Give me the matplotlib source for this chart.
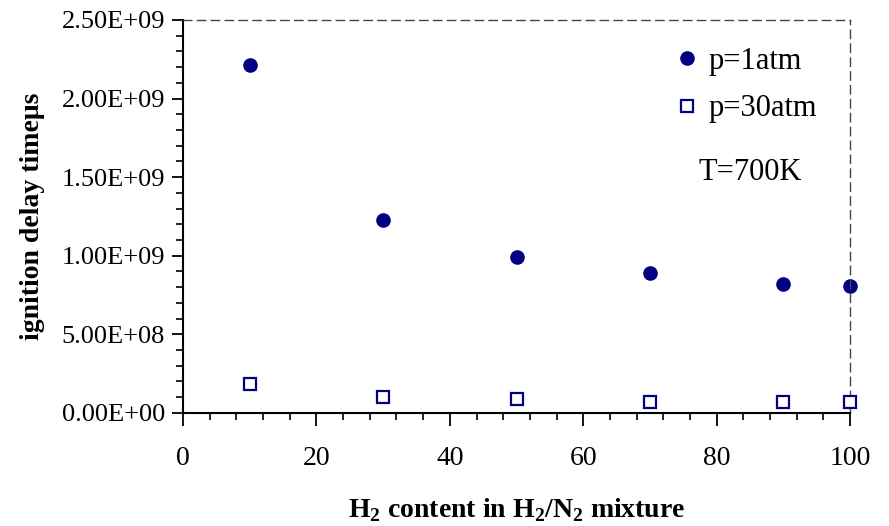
import matplotlib
matplotlib.use("Agg")
import matplotlib.pyplot as plt
from matplotlib.ticker import MultipleLocator, FuncFormatter

plt.rcParams['font.family'] = ['Liberation Serif', 'DejaVu Serif']
plt.rcParams['mathtext.fontset'] = 'custom'
plt.rcParams['mathtext.rm'] = 'Liberation Serif'
plt.rcParams['mathtext.bf'] = 'Liberation Serif:bold'

# H2 content (%) and ignition delay times
h2_content = [10, 30, 50, 70, 90, 100]
delay_1atm = [2.215e9, 1.225e9, 0.99e9, 0.89e9, 0.82e9, 0.805e9]
delay_30atm = [0.185e9, 0.1e9, 0.088e9, 0.07e9, 0.07e9, 0.07e9]

navy = '#000080'

fig = plt.figure(figsize=(8.89, 5.26), dpi=100)
ax = fig.add_axes([0.206, 0.215, 0.750, 0.747])

ax.plot(h2_content, delay_1atm, 'o', color=navy, markersize=9.5, label='p=1atm', clip_on=False)
ax.plot(h2_content, delay_30atm, 's', markerfacecolor='white', markeredgecolor=navy,
        markeredgewidth=1.6, markersize=8, label='p=30atm', clip_on=False, zorder=3)

ax.set_xlim(0, 100)
ax.set_ylim(0, 2.5e9)
ax.xaxis.set_major_locator(MultipleLocator(20))
ax.xaxis.set_minor_locator(MultipleLocator(4))
ax.yaxis.set_major_locator(MultipleLocator(5e8))
ax.yaxis.set_minor_locator(MultipleLocator(1e8))

def sci(v, pos):
    return '%.2E' % v

ax.yaxis.set_major_formatter(FuncFormatter(sci))

ax.tick_params(axis='both', which='major', direction='out', length=8, width=1.3)
ax.tick_params(axis='both', which='minor', direction='out', length=5, width=1.2)
ax.tick_params(axis='x', which='major', length=9, pad=15, labelsize=20)
ax.tick_params(axis='y', which='major', pad=5, labelsize=19)

for side in ['left', 'bottom']:
    ax.spines[side].set_linewidth(1.5)
    ax.spines[side].set_color('black')
for side in ['top', 'right']:
    ax.spines[side].set_linestyle((0, (6, 4)))
    ax.spines[side].set_linewidth(1.0)
    ax.spines[side].set_color('#444444')

ax.set_ylabel('ignition delay time\u03bcs', fontsize=20, fontweight='bold', labelpad=12)
ax.set_xlabel(r'H$_\mathbf{2}$ content in H$_\mathbf{2}$/N$_\mathbf{2}$ mixture',
              fontsize=20, fontweight='bold', labelpad=18)

leg = ax.legend(loc='upper left', bbox_to_anchor=(0.7145, 0.962), frameon=False,
                fontsize=22, handletextpad=0.2, labelspacing=0.6, handlelength=1.0,
                borderaxespad=0.0)
ax.text(0.850, 0.613, 'T=700K', transform=ax.transAxes, fontsize=22, ha='center', va='center')

fig.savefig('out.png', dpi=100)
